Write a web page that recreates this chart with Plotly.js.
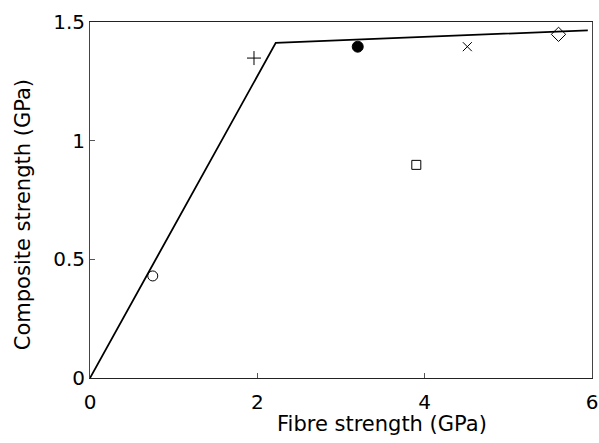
<!DOCTYPE html>
<html><head><meta charset="utf-8">
<script src="https://cdn.plot.ly/plotly-3.0.1.min.js"></script>
<style>html,body{margin:0;padding:0;background:#fff}</style>
</head><body><div id="chart" style="width:599px;height:443px"></div>
<script>
// Model line (fibre strength vs composite strength)
const lineX = [0, 2.22, 5.95];
const lineY = [0, 1.412, 1.465];
// Experimental points
const ptX = [0.75, 1.96, 3.20, 4.51, 5.60, 3.90];
const ptY = [0.43, 1.348, 1.396, 1.396, 1.448, 0.898];
const ptSymbols = ['circle-open', 'cross-thin-open', 'circle', 'x-thin-open', 'diamond-open', 'square-open'];
const ptSizes = [10, 10, 11, 9, 11, 9];
const xTicks = [0, 2, 4, 6];
const yTicks = [0, 0.5, 1, 1.5];
const yTickText = ['0', '0.5', '1', '1.5'];
const xTitle = 'Fibre strength (GPa)';
const yTitle = 'Composite strength (GPa)';

const traces = [
  {x: lineX, y: lineY, mode: 'lines', line: {color: '#000', width: 1.8}, hoverinfo: 'none'},
  {x: ptX, y: ptY, mode: 'markers', opacity: 1,
   marker: {symbol: ptSymbols, size: ptSizes, color: '#000', opacity: 1, line: {color: '#000', width: 1}}}
];
const font = {family: 'DejaVu Sans, sans-serif', size: 20, color: '#000'};
const titleFont = {family: 'DejaVu Sans, sans-serif', size: 21, color: '#000'};
const layout = {
  width: 599, height: 443,
  margin: {l: 90, r: 7, t: 22, b: 65},
  showlegend: false,
  paper_bgcolor: '#fff', plot_bgcolor: '#fff',
  font: font,
  xaxis: {range: [0, 6], tickvals: xTicks, ticks: 'inside', ticklen: 5, tickcolor: '#555', ticklabelstandoff: 6,
          showgrid: false, zeroline: false, showline: true, linecolor: '#222', linewidth: 1, mirror: true},
  yaxis: {range: [0, 1.5], tickvals: yTicks, ticktext: yTickText, ticks: 'inside', ticklen: 5, tickcolor: '#555',
          showgrid: false, zeroline: false, showline: true, linecolor: '#444', linewidth: 1, mirror: true},
  annotations: [
    {text: xTitle, xref: 'paper', yref: 'paper', x: 0.582, y: -0.13, xanchor: 'center', yanchor: 'middle',
     showarrow: false, font: titleFont},
    {text: yTitle, xref: 'paper', yref: 'paper', x: -0.133, y: 0.458, xanchor: 'center', yanchor: 'middle',
     textangle: -90, showarrow: false, font: titleFont}
  ]
};
Plotly.newPlot('chart', traces, layout, {displayModeBar: false, staticPlot: true});
</script></body></html>
